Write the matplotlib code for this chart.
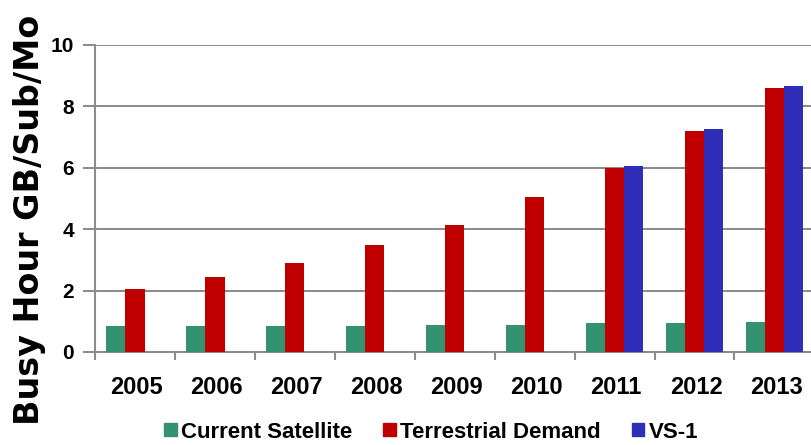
import numpy as np
import matplotlib.pyplot as plt
from matplotlib.patches import Patch

# Busy-hour usage per subscriber, by year
years = ['2005', '2006', '2007', '2008', '2009', '2010', '2011', '2012', '2013']
current_satellite = [0.85, 0.85, 0.85, 0.85, 0.88, 0.88, 0.93, 0.93, 0.97]
terrestrial_demand = [2.05, 2.45, 2.9, 3.5, 4.15, 5.05, 6.0, 7.2, 8.6]
vs1_years = ['2011', '2012', '2013']
vs1 = [6.05, 7.25, 8.65]

green = '#339370'
red = '#C00000'
blue = '#2E2EB8'

fig = plt.figure(figsize=(8.12, 4.45), dpi=100)
ax = fig.add_axes([0.117, 0.209, 0.886, 0.69])

x = np.arange(len(years))
w = 0.24
ax.bar(x - w, current_satellite, w, color=green, zorder=3)
ax.bar(x, terrestrial_demand, w, color=red, zorder=3)
vx = np.array([years.index(y) for y in vs1_years])
ax.bar(vx + w, vs1, w, color=blue, zorder=3)

ax.set_xlim(-0.5, len(years) - 0.5)
ax.set_ylim(0, 10)
ax.set_yticks(range(0, 11, 2))
ax.yaxis.grid(True, color='#808080', linewidth=1.3, zorder=0)

for s in ['top', 'right']:
    ax.spines[s].set_visible(False)
for s in ['left', 'bottom']:
    ax.spines[s].set_color('#8c8c8c')
    ax.spines[s].set_linewidth(1.5)

# category labels centred, tick marks between categories
ax.set_xticks(x + 0.02)
ax.set_xticklabels(years, fontsize=17, fontweight='bold', family='Liberation Sans')
ax.tick_params(axis='x', length=0, pad=17)
ax.set_xticks(np.arange(len(years) + 1) - 0.5, minor=True)
ax.tick_params(axis='x', which='minor', length=6, width=1.5, color='#8c8c8c')

ax.tick_params(axis='y', length=9, width=1.3, color='#808080', pad=6)
for lab in ax.get_yticklabels():
    lab.set_fontsize(15)
    lab.set_fontweight('bold')
    lab.set_family('Liberation Sans')

fig.text(0.036, 0.505, 'Busy Hour GB/Sub/Mo', rotation=90, ha='center', va='center',
         fontsize=24, fontweight='bold', family='DejaVu Sans')

handles = [Patch(color=green, label='Current Satellite'),
           Patch(color=red, label='Terrestrial Demand'),
           Patch(color=blue, label='VS-1')]
leg = fig.legend(handles=handles, loc='center', bbox_to_anchor=(0.531, 0.029), ncol=3,
                 frameon=False, handlelength=0.55, handleheight=0.55, handletextpad=0.2,
                 columnspacing=1.4, borderpad=0,
                 prop={'family': 'Liberation Sans', 'weight': 'bold', 'size': 16})

fig.savefig('out.png', dpi=100)
